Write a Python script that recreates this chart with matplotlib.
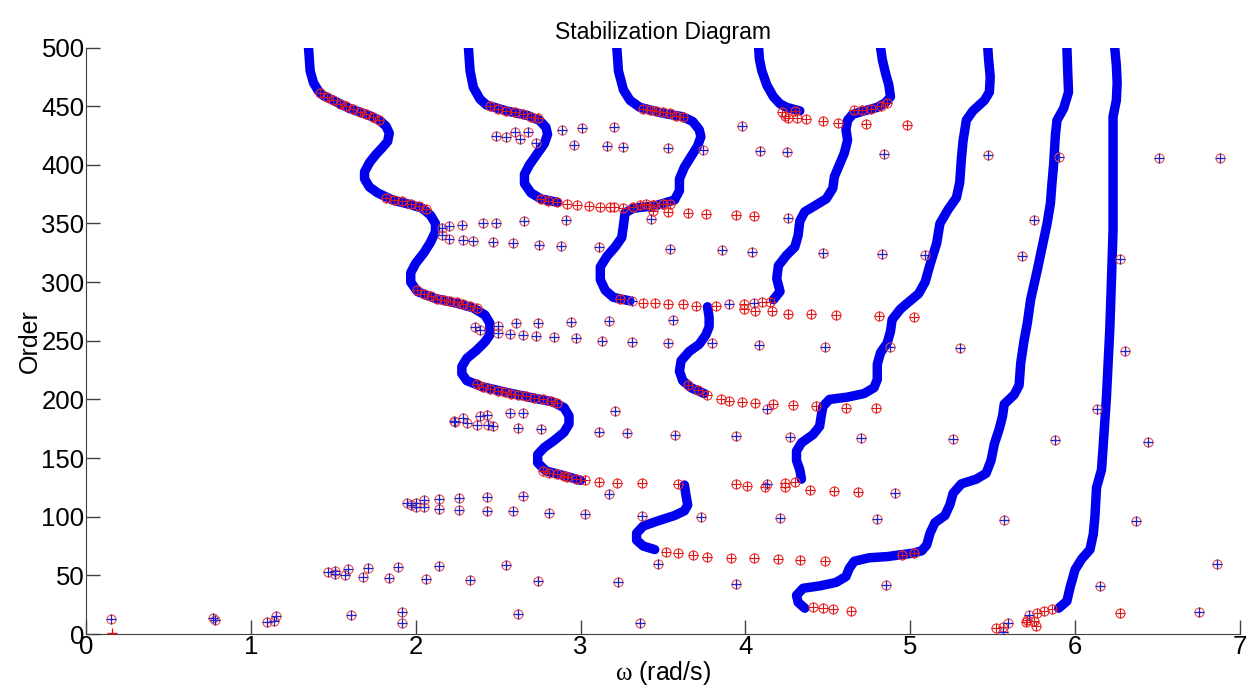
import matplotlib
matplotlib.use('Agg')
import matplotlib.pyplot as plt
import numpy as np

plt.rcParams['mathtext.fontset'] = 'custom'
plt.rcParams['mathtext.rm'] = 'Liberation Serif'

# stable pole branches, (omega, order) pairs traced along each mode
branch_1 = [(1.35, 500), (1.355, 490), (1.36, 480), (1.38, 470), (1.41, 463), (1.44, 459), (1.50, 455),
            (1.60, 448), (1.72, 442), (1.78, 438), (1.82, 433), (1.84, 427), (1.83, 420), (1.80, 415),
            (1.76, 409), (1.72, 402), (1.69, 394), (1.69, 388), (1.72, 381), (1.77, 376), (1.86, 370),
            (1.97, 366), (2.04, 363), (2.09, 357), (2.12, 350), (2.12, 343), (2.09, 334), (2.05, 325),
            (2.00, 316), (1.97, 308), (1.97, 300), (2.01, 292), (2.12, 286), (2.25, 282), (2.35, 278),
            (2.42, 272), (2.45, 265), (2.45, 255), (2.42, 249), (2.37, 242), (2.31, 235), (2.28, 228),
            (2.28, 222), (2.31, 216), (2.40, 211), (2.55, 206), (2.72, 201), (2.83, 198), (2.90, 193),
            (2.93, 186), (2.93, 179), (2.90, 172), (2.84, 165), (2.78, 159), (2.74, 153), (2.74, 146),
            (2.79, 139), (2.90, 135), (3.00, 131)]
branch_2 = [(2.32, 500), (2.325, 490), (2.33, 480), (2.35, 466), (2.39, 456), (2.43, 451), (2.55, 446),
            (2.68, 442), (2.75, 438), (2.79, 432), (2.80, 426), (2.78, 418), (2.73, 408), (2.69, 400),
            (2.66, 392), (2.66, 384), (2.70, 376), (2.76, 371), (2.86, 368)]
branch_3 = [(3.22, 500), (3.225, 490), (3.23, 480), (3.26, 464), (3.30, 455), (3.36, 449), (3.50, 444),
            (3.62, 441), (3.68, 437), (3.72, 430), (3.73, 424), (3.71, 416), (3.67, 407), (3.63, 398),
            (3.60, 388), (3.60, 378), (3.57, 370), (3.45, 365), (3.32, 363), (3.27, 359), (3.26, 348),
            (3.25, 338), (3.21, 330), (3.16, 322), (3.12, 313), (3.12, 302), (3.15, 293), (3.20, 287),
            (3.30, 284)]
branch_4 = [(4.08, 500), (4.085, 490), (4.10, 480), (4.13, 468), (4.17, 458), (4.21, 452), (4.25, 449),
            (4.33, 446)]
branch_5 = [(4.82, 500), (4.83, 490), (4.85, 478), (4.87, 468), (4.88, 458), (4.85, 453), (4.80, 449),
            (4.72, 446), (4.65, 443), (4.62, 438), (4.61, 430), (4.62, 421), (4.60, 410), (4.57, 400),
            (4.54, 390), (4.53, 380), (4.49, 371), (4.42, 365), (4.36, 360), (4.33, 352), (4.32, 340),
            (4.30, 330), (4.25, 323), (4.20, 314), (4.19, 303), (4.21, 292), (4.17, 285)]
branch_6 = [(3.77, 279), (3.78, 270), (3.78, 262), (3.76, 255), (3.72, 247), (3.66, 241), (3.61, 233),
            (3.60, 224), (3.62, 216), (3.67, 210), (3.75, 205)]
branch_7 = [(3.63, 127), (3.64, 118), (3.65, 110), (3.63, 105), (3.57, 101), (3.46, 96), (3.38, 92),
            (3.34, 86), (3.34, 80), (3.38, 75), (3.45, 72)]
branch_8 = [(4.34, 132), (4.33, 140), (4.31, 148), (4.31, 156), (4.34, 163), (4.41, 170), (4.45, 177),
            (4.46, 186), (4.47, 194), (4.51, 200), (4.62, 202), (4.72, 205), (4.78, 210), (4.80, 217),
            (4.80, 230), (4.82, 240), (4.86, 248), (4.88, 258), (4.89, 268), (4.94, 277), (4.99, 283),
            (5.05, 290), (5.09, 300), (5.12, 315), (5.16, 333), (5.18, 350), (5.23, 362), (5.28, 372),
            (5.30, 385), (5.31, 405), (5.32, 420), (5.34, 438), (5.38, 446), (5.45, 455), (5.48, 462),
            (5.485, 475), (5.475, 490), (5.47, 500)]
branch_9 = [(4.36, 22), (4.32, 27), (4.31, 33), (4.35, 39), (4.45, 41), (4.55, 44), (4.61, 49),
            (4.63, 56), (4.66, 62), (4.75, 65), (4.86, 66), (5.02, 69), (5.07, 71), (5.10, 76),
            (5.12, 86), (5.15, 95), (5.21, 101), (5.24, 110), (5.26, 120), (5.31, 128), (5.40, 132),
            (5.46, 137), (5.49, 148), (5.51, 162), (5.54, 175), (5.56, 186), (5.57, 196), (5.63, 204),
            (5.66, 212), (5.67, 231), (5.69, 250), (5.71, 265), (5.73, 285), (5.77, 310), (5.80, 330),
            (5.83, 350), (5.85, 367), (5.86, 385), (5.87, 401), (5.88, 425), (5.89, 438), (5.93, 448),
            (5.96, 462), (5.955, 480), (5.95, 500)]
branch_10 = [(5.90, 22), (5.95, 28), (5.97, 40), (6.00, 55), (6.04, 64), (6.09, 72), (6.11, 85),
             (6.12, 100), (6.13, 125), (6.16, 140), (6.17, 160), (6.19, 202), (6.21, 259), (6.22, 300),
             (6.23, 344), (6.23, 400), (6.23, 441), (6.25, 455), (6.255, 470), (6.25, 485), (6.24, 500)]
branches = [branch_1, branch_2, branch_3, branch_4, branch_5, branch_6, branch_7, branch_8, branch_9, branch_10]

# frequency-stable poles (red)
red_w = [1.42, 1.46, 1.50, 1.54, 1.58, 1.62, 1.66, 1.70, 1.74, 1.78,
         1.82, 1.87, 1.92, 1.97, 2.02, 2.06,
         2.01, 2.05, 2.09, 2.13, 2.17, 2.21, 2.25, 2.29, 2.33, 2.37,
         2.37, 2.41, 2.45, 2.50, 2.54, 2.58, 2.62, 2.67, 2.72, 2.77, 2.82, 2.86,
         2.77, 2.81, 2.86, 2.90, 2.92, 2.97, 3.03, 3.11, 3.22, 3.37, 3.59,
         2.45, 2.50, 2.55, 2.60, 2.65, 2.70, 2.74,
         2.76, 2.80, 2.86, 2.92, 2.98, 3.05, 3.12, 3.20,
         3.38, 3.42, 3.46, 3.50, 3.54, 3.58, 3.62,
         3.54, 3.50, 3.44, 3.36, 3.32, 3.26, 3.18,
         3.24, 3.38, 3.45, 3.53, 3.62, 3.70,
         3.82, 3.99, 4.10, 4.15,
         3.99, 4.06, 4.16, 4.26, 4.40, 4.55, 4.81, 5.02,
         3.65, 3.71, 3.77, 3.85, 3.90, 3.98, 4.06, 4.17, 4.29, 4.43, 4.61, 4.79,
         3.52, 3.59, 3.68, 3.77, 3.91, 4.05, 4.20, 4.33, 4.48,
         4.41, 4.47, 4.53, 4.64, 4.95, 5.02,
         4.22, 4.24, 4.26, 4.30, 4.31, 4.37, 4.47, 4.56, 4.73, 4.98,
         4.66, 4.71, 4.76, 4.82, 4.86,
         3.40, 3.44, 3.44, 3.50, 3.53, 3.65, 3.76, 3.94, 4.05,
         3.94, 4.01, 4.12, 4.24, 4.24, 4.30, 4.39, 4.54, 4.68,
         5.52, 5.56, 5.70, 5.71, 5.75, 5.76, 5.77, 5.81, 5.86, 6.27]
red_order = [461, 458, 455, 452, 450, 448, 445, 443, 441, 438,
             372, 370, 369, 367, 365, 362,
             293, 290, 288, 286, 285, 284, 283, 281, 280, 278,
             213, 211, 209, 207, 206, 205, 204, 203, 201, 200, 199, 197,
             139, 137, 136, 135, 134, 132, 131, 130, 129, 129, 128,
             450, 448, 446, 445, 443, 441, 440,
             371, 369, 368, 367, 366, 365, 364, 364,
             448, 447, 446, 445, 444, 442, 441,
             367, 367, 366, 366, 364, 363, 364,
             286, 282, 282, 281, 281, 280,
             280, 281, 283, 283,
             277, 275, 275, 273, 273, 272, 271, 270,
             212, 208, 204, 200, 199, 198, 197, 196, 195, 194, 193, 193,
             70, 69, 67, 66, 65, 65, 64, 63, 62,
             23, 22, 21, 20, 67, 69,
             445, 442, 440, 446, 440, 439, 437, 436, 435, 434,
             447, 447, 448, 450, 453,
             367, 366, 361, 367, 360, 359, 358, 357, 356,
             128, 126, 125, 129, 125, 130, 123, 122, 121,
             5, 6, 10, 12, 11, 7, 18, 20, 21, 18]

# physical poles (red circle with blue cross)
pole_w = [0.15, 0.77, 0.78, 1.10, 1.14, 1.15, 1.47, 1.51, 1.51, 1.57, 1.59, 1.68, 1.71, 1.84, 1.89,
          1.61, 1.92, 1.92, 2.06, 2.14, 2.33, 2.55, 2.74, 3.23, 2.62, 3.36,
          1.95, 1.97, 2.00, 2.05, 2.14, 2.26, 2.43, 2.65, 2.00, 2.05, 2.14, 2.26, 2.43, 2.59, 2.81, 3.03,
          3.17, 3.37, 3.47,
          2.23, 2.24, 2.29, 2.31, 2.37, 2.39, 2.43, 2.44, 2.47, 2.57, 2.62, 2.65, 2.76, 3.11, 3.21, 3.28,
          3.57, 3.94, 4.27, 4.70, 5.26,
          2.36, 2.39, 2.50, 2.61, 2.74, 2.94, 3.17, 3.56, 2.50, 2.57, 2.65, 2.73, 2.84, 2.97, 3.13, 3.31,
          3.53, 3.80, 4.08, 4.48, 4.88, 5.30,
          2.16, 2.20, 2.28, 2.41, 2.49, 2.66, 2.91, 2.16, 2.20, 2.29, 2.35, 2.47, 2.59, 2.75, 2.88, 3.11,
          3.54, 3.86, 4.04, 4.47, 4.83, 5.09, 3.43, 4.26,
          2.49, 2.55, 2.60, 2.63, 2.68, 2.73, 2.89, 3.01, 3.20, 2.96, 3.16, 3.26, 3.53, 3.74, 3.98, 4.09,
          4.25, 4.84, 5.47, 5.90, 6.51, 6.88,
          3.31, 3.90, 4.05, 4.13, 3.73, 4.21, 4.80, 4.13, 4.91,
          3.94, 4.85, 5.57, 6.37, 6.86, 6.15, 6.75, 6.13, 5.88, 6.44, 6.30, 6.27, 5.68, 5.75,
          5.56, 5.72, 5.59]
pole_order = [13, 14, 12, 10, 11, 15, 53, 54, 51, 50, 55, 49, 56, 48, 57,
              16, 19, 9, 47, 58, 46, 59, 45, 44, 17, 9,
              112, 110, 112, 114, 115, 116, 117, 118, 108, 108, 107, 106, 105, 105, 103, 102,
              119, 101, 60,
              182, 181, 184, 180, 178, 186, 187, 178, 177, 188, 176, 188, 175, 172, 190, 171,
              170, 169, 168, 167, 166,
              262, 259, 263, 265, 265, 266, 267, 268, 257, 256, 255, 254, 253, 252, 250, 249,
              248, 248, 246, 245, 245, 244,
              346, 348, 349, 350, 350, 352, 353, 340, 337, 336, 335, 334, 333, 332, 331, 330,
              328, 327, 326, 325, 324, 323, 354, 355,
              425, 424, 428, 422, 428, 419, 430, 431, 432, 417, 416, 415, 414, 413, 433, 412,
              411, 409, 408, 407, 406, 406,
              284, 281, 282, 192, 100, 99, 98, 128, 120,
              43, 42, 97, 96, 60, 41, 19, 192, 165, 164, 241, 320, 322, 353,
              2, 16, 9]

fig = plt.figure(figsize=(12.51, 6.92), dpi=100)
ax = fig.add_axes([0.0687, 0.0838, 0.9225, 0.8475])

for b in branches:
    bw, bo = zip(*b)
    ax.plot(bw, bo, color='#0000ee', lw=6.8, solid_capstyle='round', solid_joinstyle='round', zorder=2)

ax.plot(red_w, red_order, 'o', ms=6.5, mfc='none', mec='#f03030', mew=0.8, zorder=3)
ax.plot(red_w, red_order, '+', ms=6.5, color='#d81818', mew=0.8, zorder=3)
ax.plot(pole_w, pole_order, 'o', ms=6.5, mfc='none', mec='#e85050', mew=0.8, zorder=4)
ax.plot(pole_w, pole_order, '+', ms=6.5, color='#2020c8', mew=0.9, zorder=4)
ax.plot([0.16], [1], '+', ms=6.5, color='red', mew=0.9, zorder=4)

ax.set_xlim(0, 7)
ax.set_ylim(0, 500)
ax.set_xticks(np.arange(0, 8, 1))
ax.set_yticks(np.arange(0, 501, 50))
ax.tick_params(direction='in', length=10, width=1, colors='#404040', labelsize=18.5, labelcolor='black', pad=1)
for s in ['top', 'right']:
    ax.spines[s].set_visible(False)
for s in ['left', 'bottom']:
    ax.spines[s].set_color('#404040')
for lab in ax.get_xticklabels() + ax.get_yticklabels():
    lab.set_fontfamily('Liberation Sans')

ax.set_xlabel(r'$\mathrm{\omega}$ (rad/s)', fontsize=18, family='Liberation Sans', labelpad=0)
ax.set_ylabel('Order', fontsize=18, family='Liberation Sans', labelpad=0)
ax.set_title('Stabilization Diagram', fontsize=16.5, family='Liberation Sans', pad=6)

fig.savefig('out.png', dpi=100)
